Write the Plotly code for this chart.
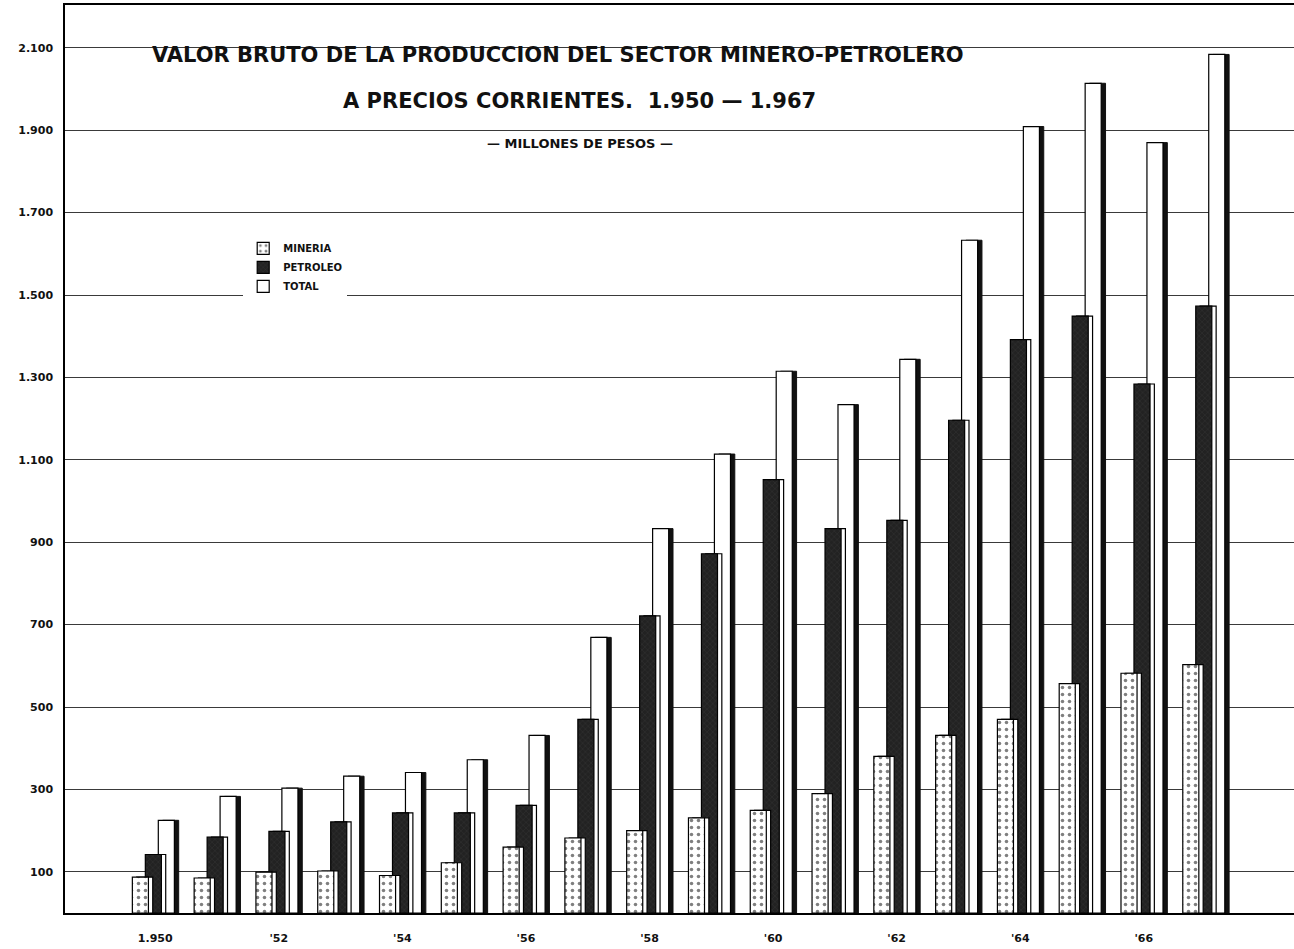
import plotly.graph_objects as go

years = list(range(1950, 1968))
mineria = [87, 85, 99, 102, 91, 122, 160, 182, 200, 231, 249, 290, 380, 431, 470, 557, 582, 603]
petroleo = [142, 184, 198, 221, 243, 243, 261, 470, 721, 872, 1052, 933, 953, 1196, 1392, 1449, 1284, 1473]
total = [225, 283, 303, 332, 341, 372, 431, 669, 933, 1114, 1315, 1234, 1344, 1633, 1909, 2014, 1870, 2084]

y_tick_vals = [100, 300, 500, 700, 900, 1100, 1300, 1500, 1700, 1900, 2100]
y_tick_text = ["100", "300", "500", "700", "900", "1.100", "1.300", "1.500", "1.700", "1.900", "2.100"]
x_tick_vals = [1950, 1952, 1954, 1956, 1958, 1960, 1962, 1964, 1966]
x_tick_text = ["1.950", "'52", "'54", "'56", "'58", "'60", "'62", "'64", "'66"]

BW = 0.26      # face width (data units)
SH = 0.07      # side-face shift
OFF = {"min": -0.37, "pet": -0.16, "tot": 0.05}
LINE = dict(color="black", width=1.2)

fig = go.Figure()

# TOTAL (back)
fig.add_trace(go.Bar(x=years, y=total, width=BW, offset=OFF["tot"] + SH,
                     marker=dict(color="#111111", line=dict(color="#111111", width=1)),
                     showlegend=False, hoverinfo="skip"))
fig.add_trace(go.Bar(x=years, y=total, width=BW, offset=OFF["tot"], name="TOTAL",
                     marker=dict(color="white", line=LINE), legendrank=3))
# PETROLEO
fig.add_trace(go.Bar(x=years, y=petroleo, width=BW, offset=OFF["pet"] + SH,
                     marker=dict(color="white", line=LINE),
                     showlegend=False, hoverinfo="skip"))
fig.add_trace(go.Bar(x=years, y=petroleo, width=BW, offset=OFF["pet"], name="PETROLEO",
                     marker=dict(color="#262626", line=LINE,
                                 pattern=dict(shape="x", fgcolor="#3c3c3c", bgcolor="#222222",
                                              size=4, solidity=0.3)),
                     legendrank=2))
# MINERIA (front)
fig.add_trace(go.Bar(x=years, y=mineria, width=BW, offset=OFF["min"] + SH,
                     marker=dict(color="white", line=LINE),
                     showlegend=False, hoverinfo="skip"))
fig.add_trace(go.Bar(x=years, y=mineria, width=BW, offset=OFF["min"], name="MINERIA",
                     marker=dict(color="white", line=LINE,
                                 pattern=dict(shape=".", fgcolor="black", bgcolor="white",
                                              size=7, solidity=0.2)),
                     legendrank=1))

fig.update_layout(
    width=1294, height=949,
    margin=dict(l=65, r=0, t=5, b=36),
    paper_bgcolor="white", plot_bgcolor="white",
    barmode="overlay",
    font=dict(family="DejaVu Sans", color="#111111"),
    legend=dict(x=0.145, y=0.748, xanchor="left", yanchor="top",
                bgcolor="rgba(255,255,255,1)", borderwidth=0,
                font=dict(size=10, family="DejaVu Sans", weight="bold"),
                tracegroupgap=0, itemwidth=30),
    xaxis=dict(range=[1948.54, 1968.43], tickvals=x_tick_vals, ticktext=x_tick_text,
               showgrid=False, zeroline=False, showline=True, linecolor="black",
               linewidth=2, mirror=True, ticks="", ticklabelstandoff=14,
               tickfont=dict(size=11, family="DejaVu Sans", weight="bold")),
    yaxis=dict(range=[0, 2204], tickvals=y_tick_vals, ticktext=y_tick_text,
               showgrid=True, gridcolor="#3a3a3a", gridwidth=1.3, zeroline=False,
               showline=True, linecolor="black", linewidth=1.5, ticks="",
               ticklabelstandoff=8,
               tickfont=dict(size=11, family="DejaVu Sans", weight="bold")),
    annotations=[
        dict(text="VALOR BRUTO DE LA PRODUCCION DEL SECTOR MINERO-PETROLERO",
             xref="paper", yref="paper", x=0.401, y=0.945, showarrow=False,
             xanchor="center", yanchor="middle",
             font=dict(size=21, family="DejaVu Sans", weight="bold", color="#111111")),
        dict(text="A PRECIOS CORRIENTES.  1.950 — 1.967",
             xref="paper", yref="paper", x=0.419, y=0.894, showarrow=False,
             xanchor="center", yanchor="middle",
             font=dict(size=21, family="DejaVu Sans", weight="bold", color="#111111")),
        dict(text="— MILLONES DE PESOS —",
             xref="paper", yref="paper", x=0.419, y=0.848, showarrow=False,
             xanchor="center", yanchor="middle",
             font=dict(size=13, family="DejaVu Sans", weight="bold", color="#111111")),
    ],
)

fig.write_html("out.html", config={"displayModeBar": False},
               post_script="document.body.style.margin='0';document.body.style.overflow='hidden';")
